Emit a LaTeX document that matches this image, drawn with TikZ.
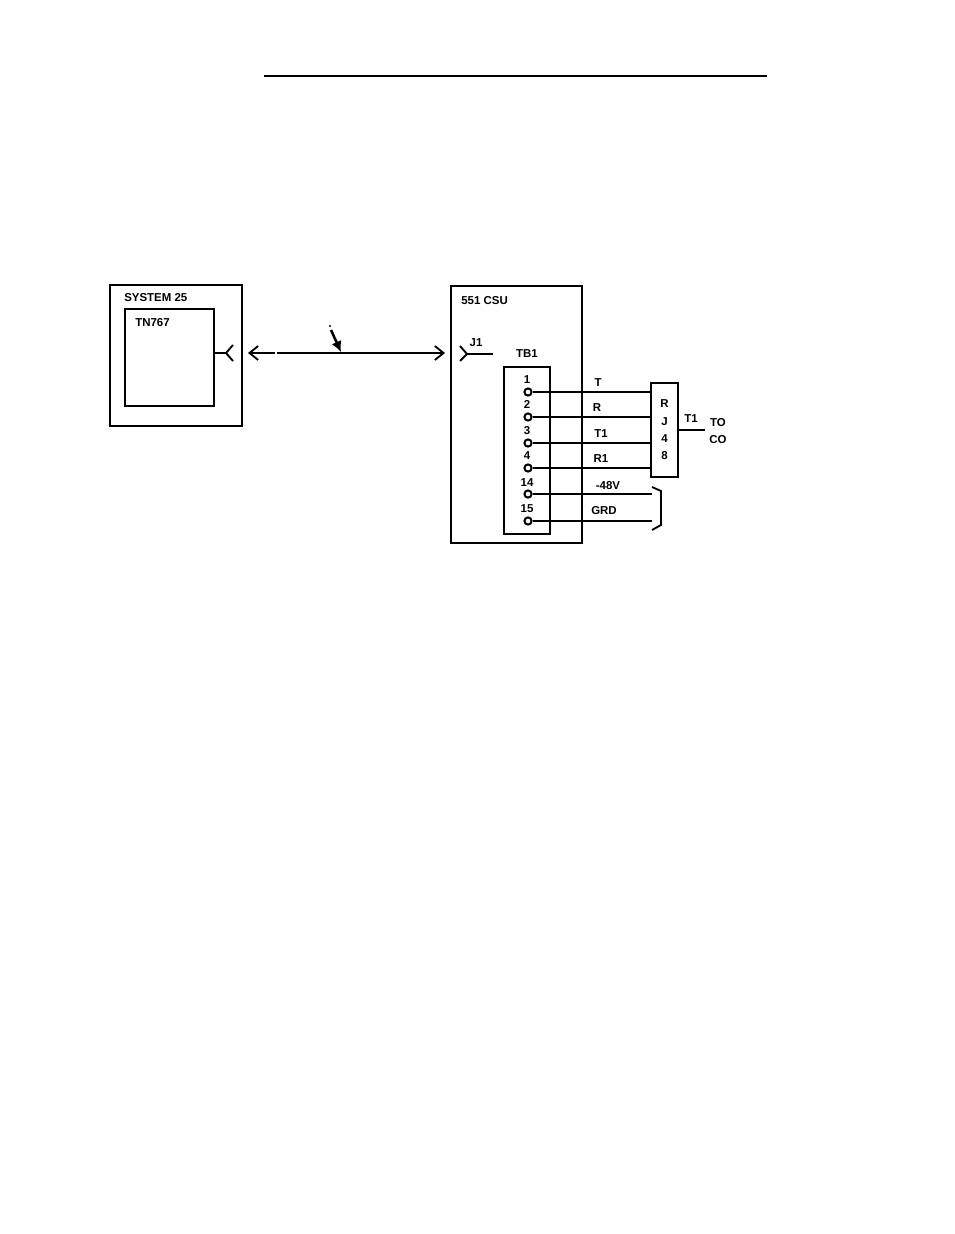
\documentclass[tikz,border=0pt]{standalone}
\usepackage{fontspec}
\setmainfont{Liberation Sans}
\usetikzlibrary{arrows.meta}
\tikzset{
  box/.style={draw,line width=1.4pt,inner sep=0pt},
  lbl/.style={inner sep=0pt,font=\fontsize{8.6}{13}\selectfont\bfseries},
  wire/.style={line width=1.4pt},
  term/.style={circle,draw,line width=1.5pt,fill=white,inner sep=0pt,minimum size=5.4pt}
}
\begin{document}
\begin{tikzpicture}[x=.75pt,y=-.75pt,>={Straight Barb[length=6.5pt,width=10.5pt,line width=1.4pt]}]
    \useasboundingbox (0,0) rectangle (954,1234);
    % top rule
    \coordinate (ruleL) at (264,76);
    \coordinate (ruleR) at (767,76);
    \draw[line width=1.6pt] (ruleL)--(ruleR);
    % left cabinet
    \node (sys) at (176,355.5)[box,minimum width=99pt,minimum height=105.75pt]{};
    \node (tn) at (169.5,357.5)[box,minimum width=66.75pt,minimum height=72.75pt]{};
    \node (sysname) at (124,298)[lbl,anchor=west]{SYSTEM 25};
    \node (tnname) at (135,323)[lbl,anchor=west]{TN767};
    \coordinate (forkA) at (226,353);
    \coordinate (forkAu) at (233,345);
    \coordinate (forkAd) at (233,361);
    \draw[wire] (tn.east|-forkA)--(forkA);
    \draw[wire] (forkAu)--(forkA)--(forkAd);
    % cable between the two
    \coordinate (arrL) at (248,353);
    \coordinate (arrLe) at (275,353);
    \coordinate (arrS) at (277,353);
    \coordinate (arrR) at (445,353);
    \draw[wire,->] (arrLe)--(arrL);
    \draw[wire,->] (arrS)--(arrR);
    \coordinate (ptrA) at (331,330);
    \coordinate (ptrB) at (341,352);
    \coordinate (ptrDot) at (330,326);
    \draw[line width=1.9pt,-{Latex[length=8pt,width=8pt]}] (ptrA)--(ptrB);
    \fill (ptrDot) circle (.8pt);
    % csu
    \node (csu) at (516.5,414.5)[box,minimum width=98.25pt,minimum height=192.75pt]{};
    \node (tb) at (527,450.5)[box,minimum width=34.5pt,minimum height=125.25pt]{};
    \node (rj) at (664.5,430)[box,lbl,align=center,minimum width=20.25pt,minimum height=70.5pt]{R\\J\\4\\8};
    \node (csuname) at (461,301)[lbl,anchor=west]{551 CSU};
    \node (jname) at (476,343)[lbl]{J1};
    \node (tbname) at (527,354)[lbl]{TB1};
    \coordinate (forkB) at (467,354);
    \coordinate (forkBu) at (460,346);
    \coordinate (forkBd) at (460,361);
    \coordinate (forkBe) at (493,354);
    \draw[wire] (forkB)--(forkBe);
    \draw[wire] (forkBu)--(forkB)--(forkBd);
    % terminals and wires to the jack
    \foreach \n/\y/\w/\wx in {1/392/T/598,2/417/R/597,3/443/T1/601,4/468/R1/601}{
        \node (t\n) at (528,\y)[term]{};
        \node (n\n) at (527,\y-12.5)[lbl]{\n};
        \node (w\n) at (\wx,\y-9.5)[lbl]{\w};
        \draw[wire] (t\n)--(t\n-|rj.west);
    }
    \coordinate (open14) at (652,494);
    \coordinate (open15) at (652,521);
    \node (t14) at (528,494)[term]{};
    \node (t15) at (528,521)[term]{};
    \node (n14) at (527,483)[lbl]{14};
    \node (n15) at (527,509)[lbl]{15};
    \node (w14) at (608,486)[lbl]{-48V};
    \node (w15) at (604,511)[lbl]{GRD};
    \draw[wire] (t14)--(open14);
    \draw[wire] (t15)--(open15);
    % bracket
    \coordinate (brA) at (652,487);
    \coordinate (brB) at (661,491);
    \coordinate (brC) at (661,525);
    \coordinate (brD) at (652,530);
    \draw[wire] (brA)--(brB)--(brC)--(brD);
    % out to the CO
    \coordinate (toEnd) at (705,430);
    \draw[wire] (rj.east|-toEnd)--(toEnd);
    \node (tname) at (691,419)[lbl]{T1};
    \node (toname) at (718,423)[lbl]{TO};
    \node (coname) at (718,440)[lbl]{CO};
\end{tikzpicture}
\end{document}
